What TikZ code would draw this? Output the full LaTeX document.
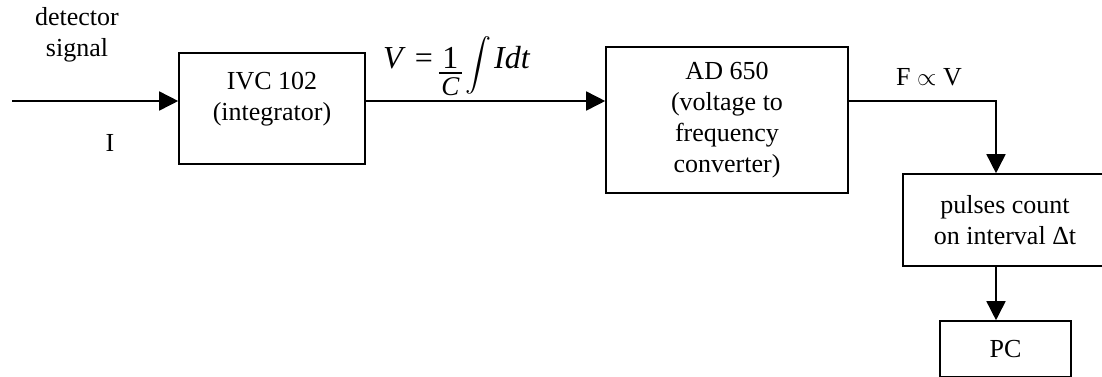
\documentclass[tikz,border=0pt]{standalone}
\usepackage{fontspec}
\setmainfont{Liberation Serif}
\DeclareFontShape{OMX}{cmex}{m}{n}{<-> cmex10}{}
\usetikzlibrary{arrows.meta}
\newcommand{\eqfrac}[2]{\vtop{\offinterlineskip\halign{\hfil\kern2.5pt##\kern2.5pt\hfil\cr #1\cr\noalign{\kern4pt\hrule height 1.5pt\kern4pt}#2\cr}}}
\begin{document}
\begin{tikzpicture}[x=1pt,y=-1pt,
  blk/.style={draw,line width=1.6pt,rectangle,inner sep=0pt},
  lbl/.style={font=\fontsize{26}{31}\selectfont,align=center,inner sep=0pt},
  conn/.style={line width=1.6pt},
  arr/.style={conn,-{Triangle[length=19pt,width=19pt]}}]
\useasboundingbox (0,0) rectangle (1102,376);
\clip (0,0) rectangle (1102,376);
% boxes
\node[blk,minimum width=186pt,minimum height=111pt] (ivc) at (272,108.5) {};
\node[lbl] (ivct) at (272,99) {IVC 102\\(integrator)};
\node[blk,minimum width=242pt,minimum height=146pt,lbl] (ad) at (727,120) {AD 650\\(voltage to\\frequency\\converter)};
\node[blk,minimum width=204pt,minimum height=92pt,lbl] (pulses) at (1005,220) {pulses count\\on interval Δt};
\node[blk,minimum width=131pt,minimum height=56pt,lbl] (pc) at (1005.5,349) {PC};
% labels
\node[lbl] (det) at (77,35) {detector\\signal};
\node[lbl] (cur) at (110,143) {I};
\node[inner sep=0pt,anchor=base west,font=\fontsize{32}{38}\selectfont] (form) at (383,68)
  {\textit{V}\hspace{9pt}=\hspace{6pt}\eqfrac{1}{\fontsize{27}{32}\selectfont\textit{C}}\hspace{3pt}\raisebox{-4pt}{\fontsize{26}{31}\selectfont\(\displaystyle\int\)}\hspace{3pt}\textit{Idt}};
\node[lbl] (prop) at (929,77) {F \(\propto\) V};
% connectors
\coordinate (in) at (12,101);
\coordinate (turn) at (996,101);
\draw[arr] (in) -- (in -| ivc.west);
\draw[arr] (ivc.east |- in) -- (ad.west |- in);
\draw[arr] (ad.east |- turn) -- (turn) -- (turn |- pulses.north);
\draw[arr] (turn |- pulses.south) -- (turn |- pc.north);
\end{tikzpicture}
\end{document}
